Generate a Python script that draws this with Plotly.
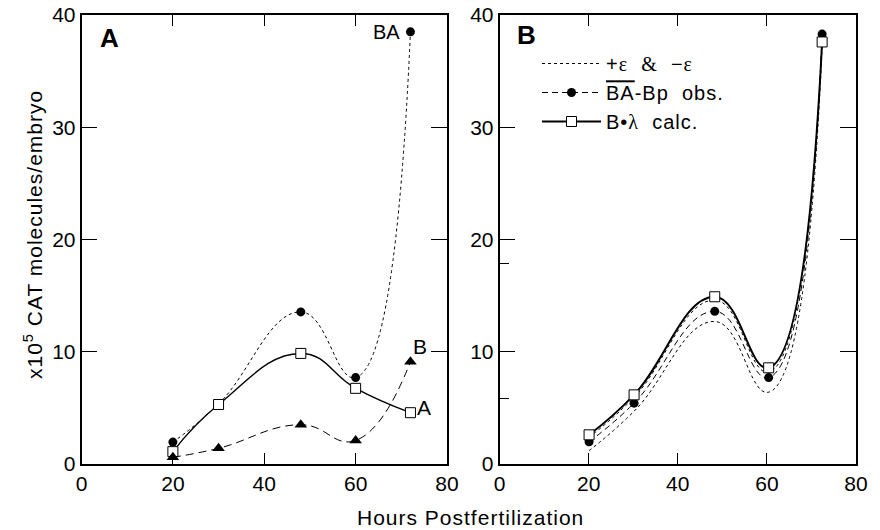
import plotly.graph_objects as go

# ---------------- data ----------------
hours = [20, 30, 48, 60, 72]

# Panel A
a_BA = [1.95, 5.35, 13.55, 7.7, 38.5]
a_A = [1.1, 5.3, 9.85, 6.74, 4.57]
a_B = [0.6, 1.4, 3.5, 2.1, 9.1]

# Panel B
b_x = [20.1, 30.2, 48.3, 60.4, 72.4]
b_obs = [1.98, 5.42, 13.6, 7.7, 38.3]
b_calc = [2.6, 6.16, 14.9, 8.57, 37.6]
b_eps_plus = [2.4, 5.95, 14.6, 8.2, 37.8]
b_eps_minus = [1.19, 4.7, 12.7, 6.4, 37.3]

y_ticks = [0, 10, 20, 30, 40]
y_minor_b = [5.8, 17.9]
x_ticks = [0, 20, 40, 60, 80]

FONT = "Arial, Liberation Sans, sans-serif"
SERIF = "Liberation Serif"
W, H = 880, 530

fig = go.Figure()

def px_x(p):
    return p / W

def px_y(p):
    return 1 - p / H

# Panel A traces
fig.add_trace(go.Scatter(x=hours, y=a_BA, mode="lines+markers", xaxis="x", yaxis="y",
                         line=dict(color="black", width=1, dash="3px,3px", shape="spline", smoothing=1.3),
                         marker=dict(symbol="circle", size=9, color="black"), showlegend=False))
fig.add_trace(go.Scatter(x=hours, y=a_A, mode="lines+markers", xaxis="x", yaxis="y",
                         line=dict(color="black", width=1.4, shape="spline", smoothing=1.3),
                         marker=dict(symbol="square", size=10, color="white", line=dict(width=1, color="black")),
                         showlegend=False))
fig.add_trace(go.Scatter(x=hours, y=a_B, mode="lines+markers", xaxis="x", yaxis="y",
                         line=dict(color="black", width=1, dash="8px,5px", shape="spline", smoothing=1.3),
                         marker=dict(symbol="triangle-up", size=11, color="black"), showlegend=False))

LS = '<span style="letter-spacing:1px">{}</span>'
SER = '<span style="font-family:' + SERIF + '">{}</span>'

# Panel B traces
fig.add_trace(go.Scatter(x=b_x, y=b_eps_plus, mode="lines", xaxis="x2", yaxis="y2",
                         line=dict(color="black", width=1, dash="3px,3px", shape="spline", smoothing=1.3),
                         name=LS.format("+" + SER.format("ε") + "  " + SER.format("&amp;") + "  −" + SER.format("ε")),
                         showlegend=True))
fig.add_trace(go.Scatter(x=b_x, y=b_eps_minus, mode="lines", xaxis="x2", yaxis="y2",
                         line=dict(color="black", width=1, dash="3px,3px", shape="spline", smoothing=1.3),
                         showlegend=False))
fig.add_trace(go.Scatter(x=b_x, y=b_obs, mode="lines+markers", xaxis="x2", yaxis="y2",
                         line=dict(color="black", width=1, dash="6px,4px", shape="spline", smoothing=1.3),
                         marker=dict(symbol="circle", size=9, color="black"),
                         name=LS.format('<span style="text-decoration:overline">BA</span>-Bp  obs.')))
fig.add_trace(go.Scatter(x=b_x, y=b_calc, mode="lines+markers", xaxis="x2", yaxis="y2",
                         line=dict(color="black", width=2, shape="spline", smoothing=1.3),
                         marker=dict(symbol="square", size=10, color="white", line=dict(width=1, color="black")),
                         name=LS.format("B•" + SER.format("λ") + "  calc.")))

dA = [px_x(81.5), px_x(447)]
dB = [px_x(499.5), px_x(856)]
dY = [px_y(464), px_y(15)]

axis_common = dict(showgrid=False, zeroline=False, showline=True, linecolor="black", linewidth=1.5,
                   automargin=False, mirror="ticks", ticklabeloverflow="allow",
                   tickfont=dict(family=FONT, size=21, color="black"), tickcolor="black", tickwidth=1)

layout = dict(
    width=W, height=H, margin=dict(l=0, r=0, t=0, b=0, autoexpand=False),
    paper_bgcolor="white", plot_bgcolor="white",
    font=dict(family=FONT, color="black"),
    xaxis=dict(domain=dA, range=[0, 80], tickvals=x_ticks, ticks="inside", ticklen=11, anchor="y", **axis_common),
    yaxis=dict(domain=dY, range=[0, 40], tickvals=y_ticks, ticks="inside", ticklen=16, anchor="x", **axis_common),
    xaxis2=dict(domain=dB, range=[0, 80], tickvals=x_ticks, ticks="inside", ticklen=11, anchor="y2", **axis_common),
    yaxis2=dict(domain=dY, range=[0, 40], tickvals=y_ticks, ticks="inside", ticklen=16, anchor="x2", **axis_common),
    yaxis4=dict(domain=dY, range=[0, 40], tickvals=y_minor_b, ticktext=["", ""], ticks="inside", ticklen=9,
                overlaying="y2", anchor="x2", side="left", showline=False, showgrid=False, zeroline=False,
                automargin=False, tickcolor="black", tickwidth=1, showticklabels=False),
    legend=dict(x=px_x(537), y=px_y(44), xanchor="left", yanchor="top", bgcolor="rgba(0,0,0,0)",
                font=dict(family=FONT, size=20, color="black"), tracegroupgap=0, itemwidth=59),
    showlegend=True,
)
fig.update_layout(**layout)

# dummy trace so the overlay tick axis renders
fig.add_trace(go.Scatter(x=[None], y=[None], xaxis="x2", yaxis="y4", showlegend=False, hoverinfo="skip"))

ann = [
    dict(text="<b>A</b>", x=6.2, y=37.95, xref="x", yref="y", showarrow=False, font=dict(size=26)),
    dict(text="<b>B</b>", x=6.0, y=38.2, xref="x2", yref="y2", showarrow=False, font=dict(size=26)),
    dict(text="BA", x=70.1, y=38.5, xref="x", yref="y", xanchor="right", yanchor="middle",
         showarrow=False, font=dict(size=20)),
    dict(text="B", x=74.0, y=10.45, xref="x", yref="y", xanchor="center", yanchor="middle",
         showarrow=False, font=dict(size=21)),
    dict(text="A", x=74.9, y=5.0, xref="x", yref="y", xanchor="center", yanchor="middle",
         showarrow=False, font=dict(size=21)),
    dict(text=LS.format("x10<sup>5</sup> CAT molecules/embryo"), x=px_x(33), y=px_y(235),
         xref="paper", yref="paper", xanchor="center", yanchor="middle",
         textangle=-90, showarrow=False, font=dict(size=21)),
    dict(text=LS.format("Hours Postfertilization"), x=px_x(470), y=px_y(517),
         xref="paper", yref="paper", xanchor="center", yanchor="middle",
         showarrow=False, font=dict(size=21)),
]
fig.update_layout(annotations=ann)

fig.write_html("out.html", config={"displayModeBar": False},
               post_script="document.body.style.margin='0px';document.body.style.overflow='hidden';")
